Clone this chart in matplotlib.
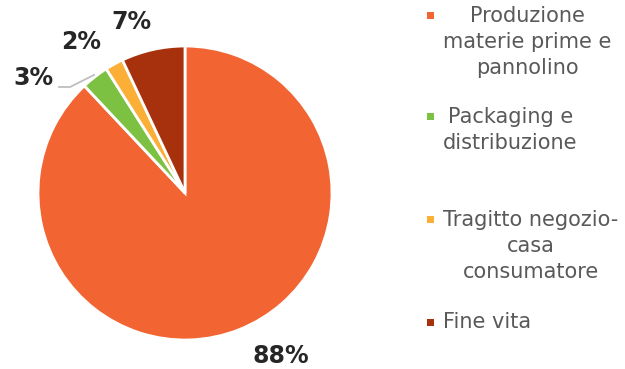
import matplotlib
matplotlib.use("Agg")
import matplotlib.pyplot as plt
from matplotlib.patches import Rectangle

# Data
categories = ["Produzione\nmaterie prime e\npannolino",
              "Packaging e\ndistribuzione",
              "Tragitto negozio-\ncasa\nconsumatore",
              "Fine vita"]
values = [88, 3, 2, 7]
pct_labels = ["88%", "3%", "2%", "7%"]
colors = ["#F26533", "#7DC142", "#FBAF37", "#A8310D"]

# label placement (pie data coords)
label_pos = [(0.650, -1.109), (-1.034, 0.782), (-0.707, 1.027), (-0.361, 1.163)]

fig = plt.figure(figsize=(6.25, 3.69), dpi=100)
ax = fig.add_axes([38 / 625, 29 / 369, 294 / 625, 294 / 369])
ax.pie(values, colors=colors, startangle=90, counterclock=False, radius=1,
       wedgeprops=dict(edgecolor="white", linewidth=2))
ax.set_xlim(-1, 1)
ax.set_ylim(-1, 1)
ax.set_aspect("equal")
ax.axis("off")

for (x, y), lab in zip(label_pos, pct_labels):
    ax.text(x, y, lab, ha="center", va="center", fontsize=17,
            fontweight="bold", color="#262626", clip_on=False)

# leader line for the 3% label
ax.plot([-0.857, -0.782, -0.619], [0.721, 0.721, 0.803], color="#BFBFBF",
        lw=1.3, clip_on=False)

# legend drawn by hand
legend_y = [42, 130, 246, 322]
marker_y = [15, 117, 219, 322]
for cat, col, ty, my in zip(categories, colors, legend_y, marker_y):
    fig.patches.append(Rectangle((427 / 625, 1 - (my + 3.5) / 369), 7 / 625, 7 / 369,
                                 transform=fig.transFigure, facecolor=col,
                                 edgecolor="none"))
    fig.text(443 / 625, 1 - ty / 369, cat, ha="left", va="center",
             multialignment="center", fontsize=15, color="#595959",
             linespacing=1.37)

fig.savefig("out.png", dpi=100)
